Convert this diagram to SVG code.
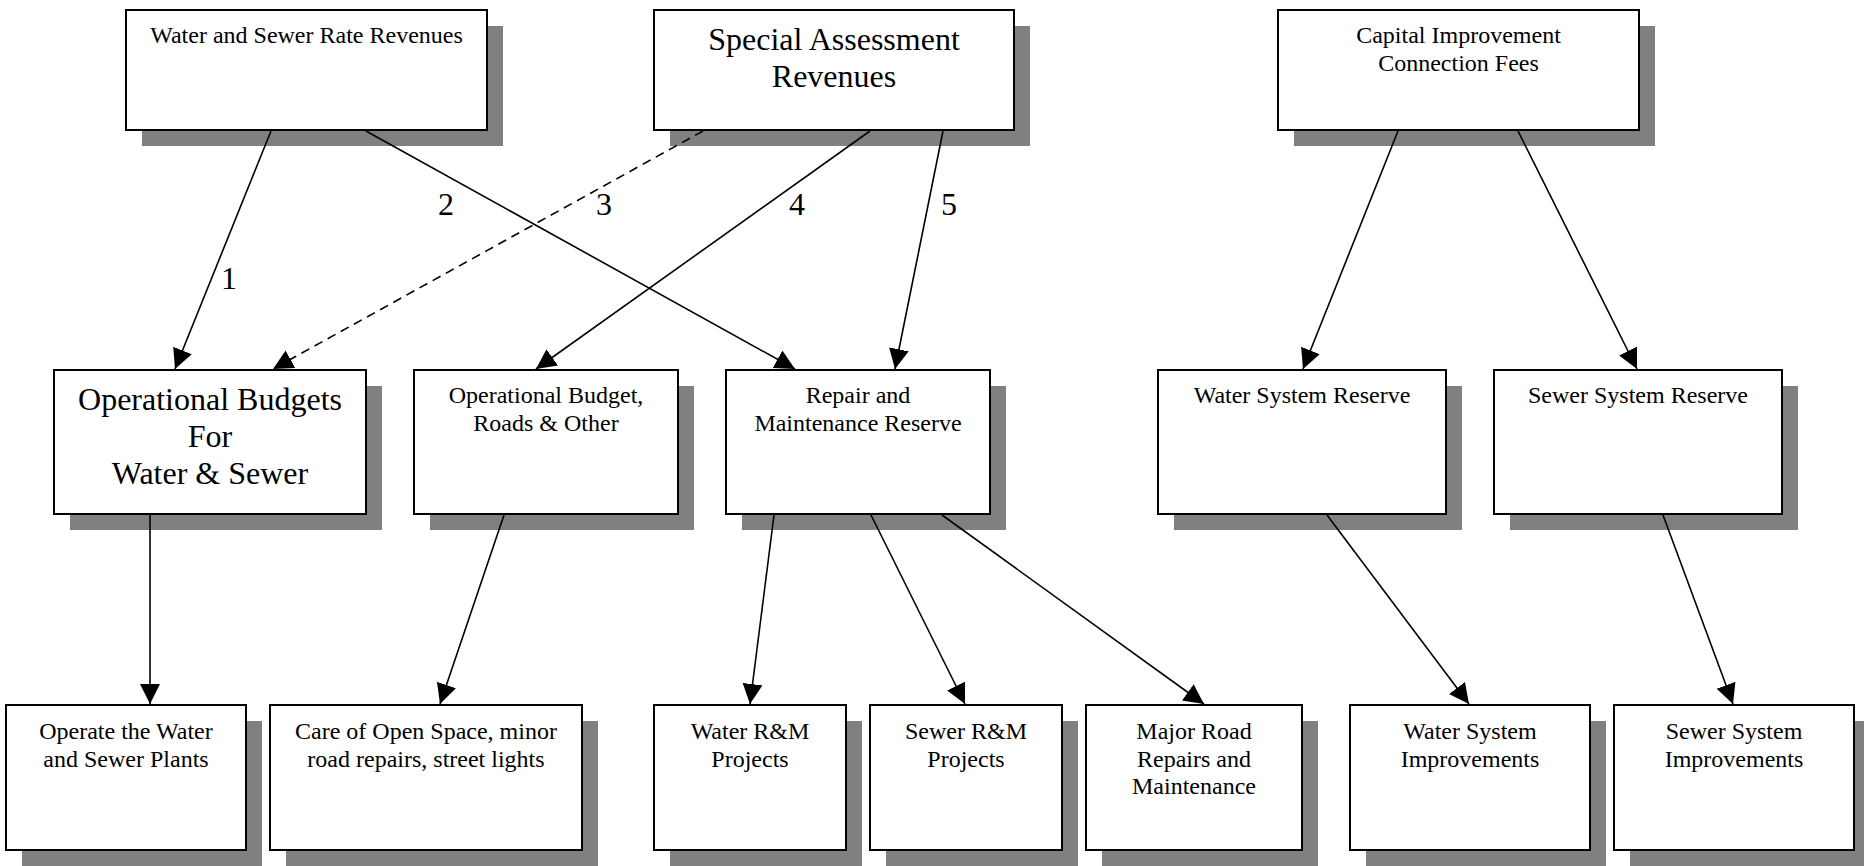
<svg xmlns="http://www.w3.org/2000/svg" width="1864" height="866" viewBox="0 0 1864 866">
<defs>
<style>
.shadow{fill:#808080;stroke:none}
.box{fill:#ffffff;stroke:#000000;stroke-width:2}
.t{font-family:"Liberation Serif","Times New Roman",serif;font-size:24px;fill:#000;text-anchor:middle}
.tl{font-family:"Liberation Serif","Times New Roman",serif;font-size:32px;fill:#000;text-anchor:middle}
.lab{font-family:"Liberation Serif","Times New Roman",serif;font-size:32px;fill:#000;text-anchor:middle}
.edge{fill:none;stroke:#000;stroke-width:1.6;marker-end:url(#arrow)}
.dash{stroke-dasharray:9 6}
</style>
<marker id="arrow" markerUnits="userSpaceOnUse" markerWidth="22" markerHeight="22" refX="20" refY="10" orient="auto" viewBox="0 0 22 22">
<path d="M0,0 L20,10 L0,20 z" fill="#000"/>
</marker>
</defs>
<rect width="1864" height="866" fill="#fff"/>

<g id="water-sewer-rate-revenues">
<rect class="shadow" x="142" y="26" width="361" height="120"/>
<rect class="box" x="126" y="10" width="361" height="120"/>
<text class="t" x="306.5" y="43">Water and Sewer Rate Revenues</text>
</g>
<g id="special-assessment-revenues">
<rect class="shadow" x="670" y="26" width="360" height="120"/>
<rect class="box" x="654" y="10" width="360" height="120"/>
<text class="tl" x="834" y="50">Special Assessment</text>
<text class="tl" x="834" y="87">Revenues</text>
</g>
<g id="capital-improvement-connection-fees">
<rect class="shadow" x="1294" y="26" width="361" height="120"/>
<rect class="box" x="1278" y="10" width="361" height="120"/>
<text class="t" x="1458.5" y="43">Capital Improvement</text>
<text class="t" x="1458.5" y="71">Connection Fees</text>
</g>

<g id="operational-budgets-water-sewer">
<rect class="shadow" x="70" y="386" width="312" height="144"/>
<rect class="box" x="54" y="370" width="312" height="144"/>
<text class="tl" x="210" y="410">Operational Budgets</text>
<text class="tl" x="210" y="447">For</text>
<text class="tl" x="210" y="484">Water &amp; Sewer</text>
</g>
<g id="operational-budget-roads">
<rect class="shadow" x="430" y="386" width="264" height="144"/>
<rect class="box" x="414" y="370" width="264" height="144"/>
<text class="t" x="546" y="403">Operational Budget,</text>
<text class="t" x="546" y="431">Roads &amp; Other</text>
</g>
<g id="repair-maintenance-reserve">
<rect class="shadow" x="742" y="386" width="264" height="144"/>
<rect class="box" x="726" y="370" width="264" height="144"/>
<text class="t" x="858" y="403">Repair and</text>
<text class="t" x="858" y="431">Maintenance Reserve</text>
</g>
<g id="water-system-reserve">
<rect class="shadow" x="1174" y="386" width="288" height="144"/>
<rect class="box" x="1158" y="370" width="288" height="144"/>
<text class="t" x="1302" y="403">Water System Reserve</text>
</g>
<g id="sewer-system-reserve">
<rect class="shadow" x="1510" y="386" width="288" height="144"/>
<rect class="box" x="1494" y="370" width="288" height="144"/>
<text class="t" x="1638" y="403">Sewer System Reserve</text>
</g>

<g id="operate-plants">
<rect class="shadow" x="22" y="721" width="240" height="145"/>
<rect class="box" x="6" y="705" width="240" height="145"/>
<text class="t" x="126" y="739">Operate the Water</text>
<text class="t" x="126" y="766.5">and Sewer Plants</text>
</g>
<g id="care-open-space">
<rect class="shadow" x="286" y="721" width="312" height="145"/>
<rect class="box" x="270" y="705" width="312" height="145"/>
<text class="t" x="426" y="739">Care of Open Space, minor</text>
<text class="t" x="426" y="766.5">road repairs, street lights</text>
</g>
<g id="water-rm-projects">
<rect class="shadow" x="670" y="721" width="192" height="145"/>
<rect class="box" x="654" y="705" width="192" height="145"/>
<text class="t" x="750" y="739">Water R&amp;M</text>
<text class="t" x="750" y="766.5">Projects</text>
</g>
<g id="sewer-rm-projects">
<rect class="shadow" x="886" y="721" width="192" height="145"/>
<rect class="box" x="870" y="705" width="192" height="145"/>
<text class="t" x="966" y="739">Sewer R&amp;M</text>
<text class="t" x="966" y="766.5">Projects</text>
</g>
<g id="major-road-repairs">
<rect class="shadow" x="1102" y="721" width="216" height="145"/>
<rect class="box" x="1086" y="705" width="216" height="145"/>
<text class="t" x="1194" y="739">Major Road</text>
<text class="t" x="1194" y="766.5">Repairs and</text>
<text class="t" x="1194" y="794">Maintenance</text>
</g>
<g id="water-system-improvements">
<rect class="shadow" x="1366" y="721" width="240" height="145"/>
<rect class="box" x="1350" y="705" width="240" height="145"/>
<text class="t" x="1470" y="739">Water System</text>
<text class="t" x="1470" y="766.5">Improvements</text>
</g>
<g id="sewer-system-improvements">
<rect class="shadow" x="1630" y="721" width="240" height="145"/>
<rect class="box" x="1614" y="705" width="240" height="145"/>
<text class="t" x="1734" y="739">Sewer System</text>
<text class="t" x="1734" y="766.5">Improvements</text>
</g>

<g id="connectors">
<line class="edge" x1="271" y1="131" x2="175" y2="369"/>
<line class="edge" x1="366" y1="131" x2="795" y2="369"/>
<line class="edge dash" x1="703" y1="131" x2="273" y2="369"/>
<line class="edge" x1="870" y1="131" x2="536" y2="369"/>
<line class="edge" x1="943" y1="131" x2="895" y2="369"/>
<line class="edge" x1="1398" y1="131" x2="1303" y2="369"/>
<line class="edge" x1="1518" y1="131" x2="1637" y2="369"/>
<line class="edge" x1="150" y1="515" x2="150" y2="704"/>
<line class="edge" x1="504" y1="515" x2="440" y2="704"/>
<line class="edge" x1="774" y1="515" x2="750" y2="704"/>
<line class="edge" x1="871" y1="515" x2="965" y2="704"/>
<line class="edge" x1="942" y1="515" x2="1204" y2="704"/>
<line class="edge" x1="1327" y1="515" x2="1469" y2="704"/>
<line class="edge" x1="1663" y1="515" x2="1733" y2="704"/>
<text class="lab" x="229" y="289">1</text>
<text class="lab" x="446" y="215">2</text>
<text class="lab" x="604" y="215">3</text>
<text class="lab" x="797" y="215">4</text>
<text class="lab" x="949" y="215">5</text>
</g>
</svg>
